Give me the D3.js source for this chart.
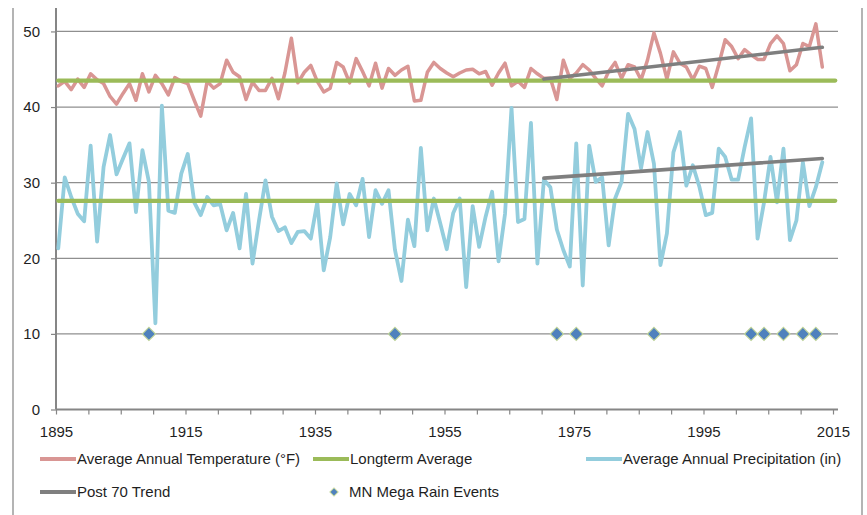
<!DOCTYPE html>
<html><head><meta charset="utf-8">
<script src="https://cdn.jsdelivr.net/npm/d3@7"></script>
<style>
body{margin:0;background:#fff}
svg{display:block}
text{font-family:"Liberation Sans",Arial,sans-serif;fill:#1f1f1f}
</style>
</head><body>
<svg id="chart" width="867" height="515"></svg>
<script>
// ---------- data ----------
const startYear = 1895;
const temperature = [
 42.8,43.4,42.3,43.7,42.6,44.4,43.6,43.1,41.4,40.4,
 41.8,43.1,40.9,44.4,42.0,44.2,43.1,41.6,43.9,43.4,
 43.1,40.9,38.8,43.4,42.5,43.1,46.2,44.6,44.0,41.0,
 43.3,42.2,42.2,43.8,41.1,44.5,49.1,43.2,44.6,45.5,
 43.4,42.0,42.5,45.9,45.3,43.2,46.4,44.7,42.8,45.8,
 42.5,45.1,44.2,44.9,45.4,40.8,40.9,44.6,45.9,45.1,
 44.5,44.0,44.5,44.9,45.0,44.4,44.7,42.9,44.5,45.8,
 42.8,43.4,42.6,45.1,44.4,43.8,43.8,41.0,46.2,43.8,
 44.5,45.6,44.9,43.8,42.8,44.7,45.9,43.8,45.6,45.3,
 43.6,46.2,49.8,47.1,43.7,47.3,45.8,45.3,43.6,45.4,
 45.1,42.6,45.6,48.9,48.0,46.4,47.6,46.9,46.3,46.3,
 48.4,49.4,48.4,44.8,45.6,48.4,48.0,51.0,45.3
];
const precipitation = [
 21.3,30.7,28.1,25.9,24.9,34.9,22.2,32.1,36.3,31.1,
 33.2,35.2,26.1,34.3,30.1,11.4,40.2,26.3,26.0,31.2,
 33.8,27.4,25.7,28.1,27.0,27.2,23.7,26.0,21.3,28.5,
 19.3,25.0,30.3,25.5,23.6,24.1,22.0,23.5,23.6,22.6,
 27.4,18.4,22.8,29.9,24.5,28.5,27.0,30.5,22.8,29.0,
 27.2,29.0,21.1,17.0,25.1,21.6,34.6,23.7,27.9,24.6,
 21.2,26.0,27.9,16.2,26.9,21.5,25.5,28.8,19.6,25.9,
 39.9,24.8,25.2,37.9,19.3,30.4,29.4,23.8,21.1,18.9,
 35.2,16.4,34.9,30.1,30.7,21.7,27.9,30.1,39.1,37.1,
 31.9,36.7,32.5,19.1,23.3,34.0,36.7,29.6,32.3,29.5,
 25.7,26.0,34.5,33.4,30.4,30.4,34.7,38.5,22.6,27.4,
 33.4,27.4,34.5,22.4,25.0,32.7,26.9,29.4,32.7
];
const longtermYears = [1895, 2015];
const tempLongterm = [43.5, 43.5];
const precipLongterm = [27.6, 27.6];
const trendYears = [1970, 2013];
const tempTrend = [43.7, 47.9];
const precipTrend = [30.6, 33.2];
const megaRainYears = [1909, 1947, 1972, 1975, 1987, 2002, 2004, 2007, 2010, 2012];
const megaRainValue = 10;
const xTickYears = [1895,1900,1905,1910,1915,1920,1925,1930,1935,1940,1945,1950,1955,1960,1965,1970,1975,1980,1985,1990,1995,2000,2005,2010,2015];
const xLabelYears = [1895,1915,1935,1955,1975,1995,2015];
const yTicks = [0,10,20,30,40,50];
const legendLabels = ["Average Annual Temperature (°F)","Longterm Average","Average Annual Precipitation (in)","Post 70 Trend","MN Mega Rain Events"];

// ---------- styles ----------
const C = {temp:"#d99694", avg:"#9bbb59", precip:"#93cddd", trend:"#7f7f7f", mega:"#4f81bd", megaStroke:"#c3d69b", grid:"#8f8f8f", axis:"#868686"};
const catOffset = 0.35;

const svg = d3.select("#chart");
const x = d3.scaleLinear().domain([1895, 2015]).range([56, 833]);
const y = d3.scaleLinear().domain([0, 53.1]).range([409.5, 8]);
const xd = yr => x(yr + catOffset);

// chart border
svg.append("line").attr("x1",13).attr("x2",13).attr("y1",8).attr("y2",515).attr("stroke","#b4b4b4").attr("stroke-width",2);
svg.append("line").attr("x1",862).attr("x2",862).attr("y1",8).attr("y2",515).attr("stroke","#b4b4b4").attr("stroke-width",2);

// gridlines
svg.append("g").selectAll("line").data(yTicks.filter(t=>t>0)).join("line")
  .attr("x1",56).attr("x2",838).attr("y1",d=>y(d)).attr("y2",d=>y(d))
  .attr("stroke",C.grid).attr("stroke-width",1.2);

// axes
const yAxis = svg.append("g").attr("transform","translate(56,0)")
  .call(d3.axisLeft(y).tickValues(yTicks).tickSize(5).tickPadding(11).tickFormat(d3.format("d")));
yAxis.select(".domain").remove();
yAxis.append("line").attr("x1",0).attr("x2",0).attr("y1",8).attr("y2",409.5).attr("stroke",C.axis).attr("stroke-width",2);
yAxis.selectAll(".tick line").attr("stroke",C.axis).attr("stroke-width",1.2);
yAxis.selectAll("text").attr("font-size",15).attr("fill","#1f1f1f").attr("font-family",'"Liberation Sans",Arial,sans-serif');

const xAxis = svg.append("g").attr("transform","translate(0,409.5)")
  .call(d3.axisBottom(x).tickValues(xTickYears).tickSize(5).tickPadding(12)
    .tickFormat(d => xLabelYears.includes(d) ? String(d) : ""));
xAxis.select(".domain").remove();
xAxis.append("line").attr("x1",56).attr("x2",838).attr("y1",0).attr("y2",0).attr("stroke",C.axis).attr("stroke-width",2);
xAxis.selectAll(".tick line").attr("stroke",C.axis).attr("stroke-width",1.2);
xAxis.selectAll("text").attr("font-size",15).attr("fill","#1f1f1f").attr("font-family",'"Liberation Sans",Arial,sans-serif');

// lines
const line = d3.line().x(d=>xd(d[0])).y(d=>y(d[1]));
const series = (vals) => vals.map((v,i)=>[startYear+i, v]);
const pairs = (ys, vs) => ys.map((yy,i)=>[yy, vs[i]]);

const drawLine = (data, color, w) => svg.append("path").datum(data).attr("d", line)
  .attr("fill","none").attr("stroke",color).attr("stroke-width",w)
  .attr("stroke-linejoin","round").attr("stroke-linecap","round");

drawLine(series(temperature), C.temp, 3.5);
drawLine(pairs(longtermYears, tempLongterm), C.avg, 4.2);
drawLine(series(precipitation), C.precip, 3.8);
drawLine(pairs(longtermYears, precipLongterm), C.avg, 4.2);
drawLine(pairs(trendYears, tempTrend), C.trend, 3.6);
drawLine(pairs(trendYears, precipTrend), C.trend, 3.6);

// mega rain events
const diamond = d3.symbol(d3.symbolSquare, 88);
svg.append("g").selectAll("path").data(megaRainYears).join("path")
  .attr("d", diamond)
  .attr("transform", d=>`translate(${xd(d)},${y(megaRainValue)}) rotate(45)`)
  .attr("fill",C.mega).attr("stroke",C.megaStroke).attr("stroke-width",1.2);

// legend
const legendItems = [
  {label:legendLabels[0], color:C.temp, type:"line", x:40, y:459},
  {label:legendLabels[1], color:C.avg, type:"line", x:313, y:459},
  {label:legendLabels[2], color:C.precip, type:"line", x:586, y:459},
  {label:legendLabels[3], color:C.trend, type:"line", x:40, y:492},
  {label:legendLabels[4], color:C.mega, type:"diamond", x:327, y:492}
];
const lg = svg.append("g");
legendItems.forEach(it=>{
  if(it.type==="line"){
    lg.append("line").attr("x1",it.x).attr("x2",it.x+36).attr("y1",it.y).attr("y2",it.y)
      .attr("stroke",it.color).attr("stroke-width",3.8);
    lg.append("text").attr("x",it.x+37).attr("y",it.y).attr("dy","0.35em").attr("font-size",15).text(it.label);
  } else {
    lg.append("path").attr("d", d3.symbol(d3.symbolSquare, 34)).attr("transform",`translate(${it.x+7},${it.y}) rotate(45)`)
      .attr("fill",it.color).attr("stroke",C.megaStroke).attr("stroke-width",1);
    lg.append("text").attr("x",it.x+22).attr("y",it.y).attr("dy","0.35em").attr("font-size",15).text(it.label);
  }
});
</script>
</body></html>
